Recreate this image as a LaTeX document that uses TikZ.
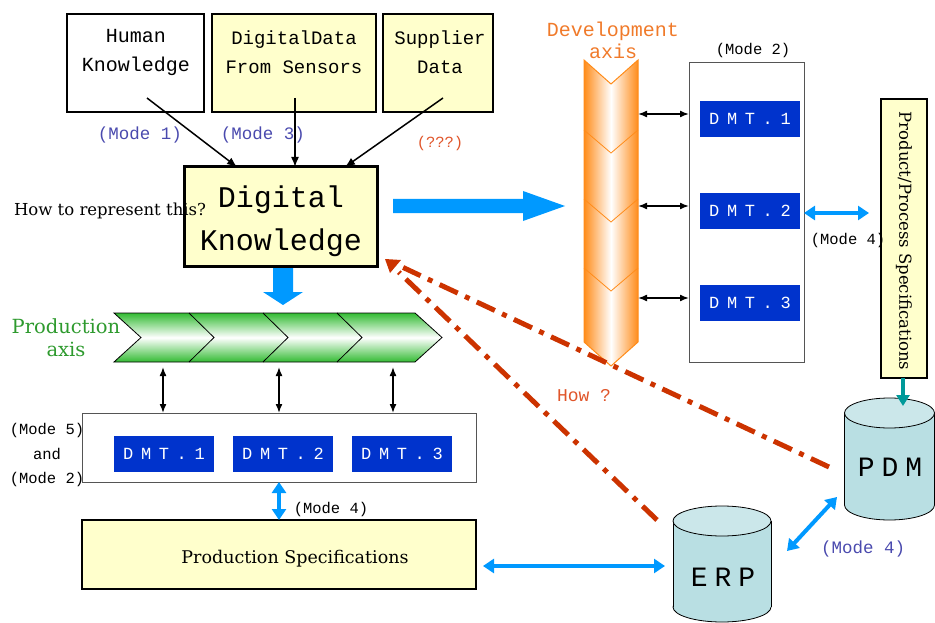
\documentclass[tikz,border=0pt]{standalone}
\usepackage{fontspec}
\setmainfont{DejaVu Serif}
\setmonofont{Liberation Mono}
\newfontfamily\dmtfont[LetterSpace=45]{Liberation Mono}
\newfontfamily\dbfont[LetterSpace=25]{Liberation Mono}
\usetikzlibrary{arrows.meta,calc}
\definecolor{yel}{HTML}{FFFFCC}
\definecolor{dmtblue}{HTML}{0033CC}
\definecolor{lblue}{HTML}{0099FF}
\definecolor{modeblue}{HTML}{4A4AAE}
\definecolor{howred}{HTML}{E0552A}
\definecolor{dashred}{HTML}{CC3300}
\definecolor{devorange}{HTML}{F07A2A}
\definecolor{chevorange}{HTML}{FF8C1A}
\definecolor{prodgreen}{HTML}{2E9A2E}
\definecolor{chevgreen}{HTML}{33BB33}
\definecolor{tealarrow}{HTML}{009999}
\definecolor{cylfill}{HTML}{B9DFE3}
\definecolor{cyltop}{HTML}{CBE7EA}
\definecolor{boxgray}{HTML}{555555}
\tikzset{
  inbox/.style={draw, line width=2.5pt, inner sep=0pt, outer sep=0pt},
  thinbox/.style={draw=boxgray, line width=1pt, inner sep=0pt, outer sep=0pt},
  dmtbox/.style={fill=dmtblue, text=white, inner sep=0pt, minimum width=100pt, minimum height=36pt, font=\dmtfont\fontsize{17}{17}\selectfont},
  modelbl/.style={inner sep=0pt, font=\ttfamily\fontsize{15.5}{15.5}\selectfont},
  bmodelbl/.style={inner sep=0pt, text=modeblue, font=\ttfamily\fontsize{17.5}{17.5}\selectfont},
  boxtext/.style={inner sep=0pt, align=center, font=\ttfamily\fontsize{19}{29}\selectfont},
  blk/.style={line width=1.5pt, {Latex[length=9pt,width=7pt]}-{Latex[length=9pt,width=7pt]}},
  blkin/.style={line width=1.5pt, -{Latex[length=10pt,width=8pt]}},
  bluedbl/.style={lblue, line width=4pt, {Triangle[length=11pt,width=14pt]}-{Triangle[length=11pt,width=14pt]}},
  dashdot/.style={dashred, line width=5pt, dash pattern=on 20pt off 8pt on 5pt off 8pt},
}
\begin{document}
\begin{tikzpicture}[x=1pt,y=-1pt]
\useasboundingbox (0,0) rectangle (935,623);

% input boxes
\node[inbox, fill=white, minimum width=137pt, minimum height=98pt] (hk) at (135.5,63) {};
\node[boxtext, font=\ttfamily\fontsize{20}{29}\selectfont] (hkt) at (136,52) {Human\\Knowledge};
\node[inbox, fill=yel, minimum width=164pt, minimum height=98pt] (dds) at (294,63) {};
\node[boxtext] (ddst) at (294,52) {DigitalData\\From Sensors};
\node[inbox, fill=yel, minimum width=110pt, minimum height=98pt] (sd) at (438,63) {};
\node[boxtext] (sdt) at (440,52) {Supplier\\Data};

% big blue arrows (behind DK)
\fill[lblue] (273,262) -- (293,262) -- (293,292) -- (303,292) -- (283,305) -- (263,292) -- (273,292) -- cycle;
\fill[lblue] (393,199) -- (523,199) -- (523,191) -- (565,206) -- (523,221) -- (523,213) -- (393,213) -- cycle;

% digital knowledge
\node[draw, line width=3pt, fill=yel, inner sep=0pt, outer sep=0pt, minimum width=193pt, minimum height=99pt] (dk) at (280.5,216.5) {};
\node[inner sep=0pt, align=center, font=\ttfamily\fontsize{30}{43}\selectfont] (dkt) at (281,221) {Digital\\Knowledge};

\coordinate (hkout) at (147,98);
\coordinate (ddsout) at (295,98);
\coordinate (sdout) at (443,98);
\draw[blkin] (hkout) -- (dk.north -| 237,0);
\draw[blkin] (ddsout) -- (dk.north -| 295,0);
\draw[blkin] (sdout) -- (dk.north -| 345,0);

\node[bmodelbl] (m1) at (140,135) {(Mode 1)};
\node[bmodelbl] (m3) at (263,135) {(Mode 3)};
\node[inner sep=0pt, text=howred, font=\ttfamily\fontsize{15.5}{15.5}\selectfont] (q) at (440,143) {(???)};
\node[inner sep=0pt, font=\fontsize{16.5}{16.5}\selectfont] (how) at (110,211) {How to represent this?};

% development axis
\path[draw=chevorange, line width=1pt, left color=chevorange, right color=chevorange, middle color=white]
  (584,60) -- (611,84) -- (638,60) -- (638,342) -- (611,366) -- (584,342) -- cycle;
\foreach \yy in {130,199,268}{
  \draw[chevorange, line width=0.8pt] (584,\yy) -- (611,\yy+23) -- (638,\yy);
}
\node[inner sep=0pt, align=center, text=devorange, font=\ttfamily\fontsize{20}{22}\selectfont] (devl) at (613,40) {Development\\axis};

% development DMT box
\node[thinbox, minimum width=115pt, minimum height=299pt] (devbox) at (746.5,212.5) {};
\node[modelbl] (m2top) at (753,50) {(Mode 2)};
\node[dmtbox] (d1) at (750,119) {DMT.1};
\node[dmtbox] (d2) at (750,211) {DMT.2};
\node[dmtbox] (d3) at (750,303) {DMT.3};
\foreach \yy in {114,206,298}{
  \draw[blk] (638,\yy) -- (devbox.west |- 0,\yy);
}

% product/process spec
\node[draw, line width=1.3pt, fill=yel, inner sep=0pt, outer sep=0pt, minimum width=46pt, minimum height=279pt] (pps) at (904,238.5) {};
\node[rotate=-90, inner sep=0pt, font=\fontsize{16.5}{16.5}\selectfont] (ppst) at (904,241) {Product/Process Specifications};
\coordinate (ppsin) at (869,213);
\draw[bluedbl] (devbox.east |- ppsin) -- (ppsin);
\node[modelbl] (m4r) at (848,240) {(Mode 4)};

% PDM cylinder
\draw[line width=0.8pt, fill=cylfill] (889.5,505) ellipse [x radius=45pt, y radius=15pt];
\fill[cylfill] (844.5,413) rectangle (934.5,505);
\draw[line width=0.8pt] (844.5,413) -- (844.5,505) (934.5,413) -- (934.5,505);
\draw[line width=0.8pt, fill=cyltop] (889.5,413) ellipse [x radius=45pt, y radius=15pt];
\node[inner sep=0pt, font=\dbfont\fontsize{28}{28}\selectfont] (pdm) at (890,467) {PDM};
\draw[tealarrow, line width=4pt, -{Triangle[length=11pt,width=13pt]}] (pps.south -| 903,0) -- (903,406);

% ERP cylinder
\draw[line width=0.8pt, fill=cylfill] (722,607) ellipse [x radius=49pt, y radius=15pt];
\fill[cylfill] (673,521) rectangle (771,607);
\draw[line width=0.8pt] (673,521) -- (673,607) (771,521) -- (771,607);
\draw[line width=0.8pt, fill=cyltop] (722,521) ellipse [x radius=49pt, y radius=15pt];
\node[inner sep=0pt, font=\dbfont\fontsize{28}{28}\selectfont] (erp) at (723,577) {ERP};

\coordinate (erpne) at (787,551);
\coordinate (pdmsw) at (837,497);
\draw[bluedbl] (erpne) -- (pdmsw);
\node[bmodelbl] (m4b) at (863,549) {(Mode 4)};

% production axis
\path[draw=black, line width=0.8pt, top color=chevgreen, bottom color=chevgreen, middle color=white]
  (114,313) -- (415,313) -- (442,337.5) -- (415,362) -- (114,362) -- (141,337.5) -- cycle;
\foreach \xx in {189,263,337}{
  \draw[line width=0.8pt] (\xx,313) -- (\xx+25,337.5) -- (\xx,362);
}
\node[inner sep=0pt, align=center, text=prodgreen, font=\fontsize{19.5}{23}\selectfont] (pax) at (66,338) {Production\\axis};

% production DMT box
\node[thinbox, minimum width=394pt, minimum height=69pt] (pbox) at (279,447.5) {};
\node[dmtbox] (p1) at (164,454) {DMT.1};
\node[dmtbox] (p2) at (283,454) {DMT.2};
\node[dmtbox] (p3) at (402,454) {DMT.3};
\foreach \xx in {163,279,393}{
  \draw[blk] (\xx,367) -- (pbox.north -| \xx,0);
}
\node[modelbl, align=center, font=\ttfamily\fontsize{15.5}{24.5}\selectfont] (m52) at (47,455) {(Mode 5)\\and\\(Mode 2)};

% production specifications
\node[draw, line width=1.2pt, fill=yel, inner sep=0pt, outer sep=0pt, minimum width=394pt, minimum height=69pt] (ps) at (279,554.5) {};
\node[inner sep=0pt, font=\fontsize{17.5}{17.5}\selectfont] (pst) at (295,559) {Production Specifications};
\draw[bluedbl] (pbox.south) -- (ps.north);
\node[modelbl] (m4p) at (331,509) {(Mode 4)};
\coordinate (erpw) at (665,566);
\draw[bluedbl] (ps.east |- erpw) ++(7,0) -- (erpw);

% dash-dot connections
\coordinate (dkin) at ($(dk.south east)+(8,-7)$);
\coordinate (pdmout) at (829,467);
\coordinate (erpout) at (657,520);
\draw[dashdot] (pdmout) -- ($(dkin)!20pt!(pdmout)$);
\draw[dashdot] (erpout) -- ($(dkin)!19pt!(erpout)$);
\fill[dashred] (dkin) -- ++(16,1) -- ++(-11,13) -- cycle;
\node[inner sep=0pt, text=howred, font=\ttfamily\fontsize{18}{18}\selectfont] (howq) at (584,396) {How ?};
\end{tikzpicture}
\end{document}
